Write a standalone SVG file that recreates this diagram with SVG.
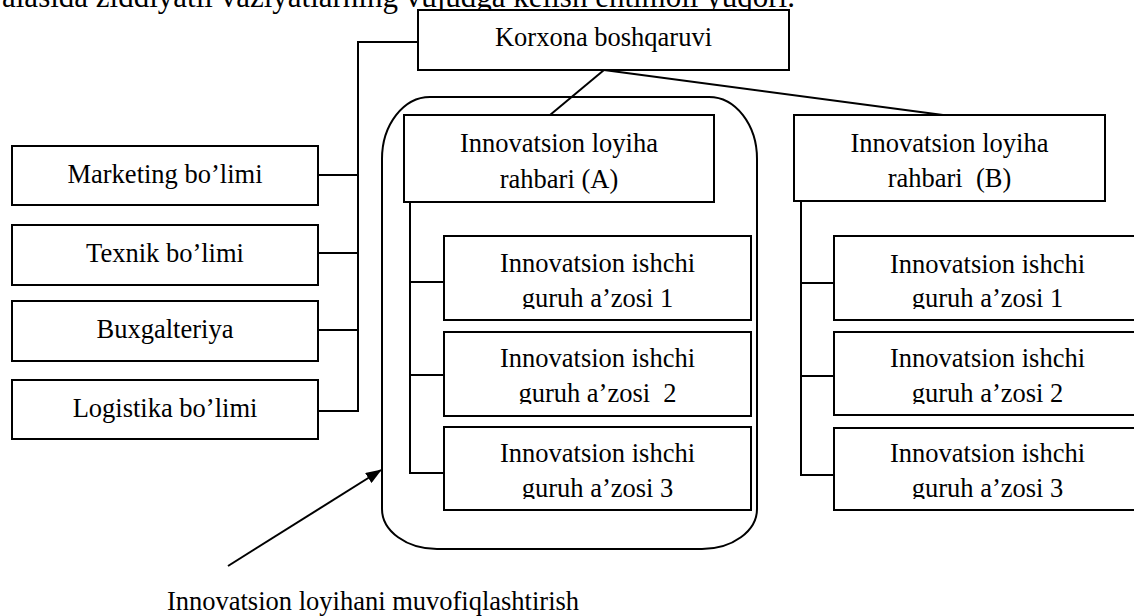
<svg xmlns="http://www.w3.org/2000/svg" width="1134" height="616" viewBox="0 0 1134 616">
<style>
text{font-family:"Liberation Serif","Times New Roman",serif;font-size:26.5px;fill:#000;text-anchor:middle}
.box{fill:#fff;stroke:#000;stroke-width:2}
.ln{fill:none;stroke:#000;stroke-width:2}
.title{font-size:31px;text-anchor:start}
</style>
<defs>
<marker id="ah" markerWidth="16" markerHeight="12" refX="15" refY="6" orient="auto" markerUnits="userSpaceOnUse">
<path d="M0,0 L16,6 L0,12 Z" fill="#000"/>
</marker>
<clipPath id="cA1" clipPathUnits="userSpaceOnUse"><rect x="444" y="236" width="307" height="73"/></clipPath>
<clipPath id="cA2" clipPathUnits="userSpaceOnUse"><rect x="444" y="332" width="307" height="72"/></clipPath>
<clipPath id="cA3" clipPathUnits="userSpaceOnUse"><rect x="444" y="427" width="307" height="72"/></clipPath>
<clipPath id="cB1" clipPathUnits="userSpaceOnUse"><rect x="834" y="236" width="307" height="73"/></clipPath>
<clipPath id="cB2" clipPathUnits="userSpaceOnUse"><rect x="834" y="332" width="307" height="72"/></clipPath>
<clipPath id="cB3" clipPathUnits="userSpaceOnUse"><rect x="834" y="428" width="307" height="71"/></clipPath>
</defs>
<rect width="1134" height="616" fill="#fff"/>
<text class="title" x="2" y="7">alasida ziddiyatli vaziyatlarning vujudga kelish ehtimoli yuqori.</text>

<g id="group-A">
<path class="ln" d="M430,97 H709 A48 62 0 0 1 757,159 V509 A55 40 0 0 1 702,549 H437 A55 40 0 0 1 382,509 V159 A48 62 0 0 1 430,97 Z"/>
</g>

<g id="connectors">
<polyline class="ln" points="418,42 358,42 358,411 318,411"/>
<line class="ln" x1="318" y1="175" x2="358" y2="175"/>
<line class="ln" x1="318" y1="253" x2="358" y2="253"/>
<line class="ln" x1="318" y1="330" x2="358" y2="330"/>
<line class="ln" x1="604" y1="70" x2="550" y2="115"/>
<line class="ln" x1="604" y1="70" x2="943" y2="115"/>
<polyline class="ln" points="410,202 410,473 444,473"/>
<line class="ln" x1="410" y1="282" x2="444" y2="282"/>
<line class="ln" x1="410" y1="375" x2="444" y2="375"/>
<polyline class="ln" points="801,201 801,475 834,475"/>
<line class="ln" x1="801" y1="283" x2="834" y2="283"/>
<line class="ln" x1="801" y1="376" x2="834" y2="376"/>
<line class="ln" x1="228" y1="566" x2="381" y2="470" marker-end="url(#ah)"/>
</g>

<g id="korxona">
<rect class="box" x="418" y="10" width="371" height="60"/>
<text x="603.5" y="46">Korxona boshqaruvi</text>
</g>

<g id="marketing">
<rect class="box" x="12" y="146" width="306" height="59"/>
<text x="165" y="183">Marketing bo’limi</text>
</g>
<g id="texnik">
<rect class="box" x="12" y="225" width="306" height="60"/>
<text x="165" y="262">Texnik bo’limi</text>
</g>
<g id="buxgalteriya">
<rect class="box" x="12" y="301" width="306" height="60"/>
<text x="165" y="338">Buxgalteriya</text>
</g>
<g id="logistika">
<rect class="box" x="12" y="380" width="306" height="59"/>
<text x="165" y="417">Logistika bo’limi</text>
</g>

<g id="rahbar-A">
<rect class="box" x="404" y="115" width="310" height="87"/>
<text x="559" y="152">Innovatsion loyiha</text>
<text x="559" y="188">rahbari (A)</text>
</g>
<g id="rahbar-B">
<rect class="box" x="794" y="115" width="311" height="86"/>
<text x="949.5" y="152">Innovatsion loyiha</text>
<text x="949.5" y="187" xml:space="preserve">rahbari  (B)</text>
</g>

<g id="A1">
<rect class="box" x="444" y="236" width="307" height="84"/>
<g clip-path="url(#cA1)"><text x="597.5" y="272">Innovatsion ishchi</text><text x="597.5" y="307">guruh a’zosi 1</text></g>
</g>
<g id="A2">
<rect class="box" x="444" y="332" width="307" height="84"/>
<g clip-path="url(#cA2)"><text x="597.5" y="367">Innovatsion ishchi</text><text x="597.5" y="402" xml:space="preserve">guruh a’zosi  2</text></g>
</g>
<g id="A3">
<rect class="box" x="444" y="427" width="307" height="83"/>
<g clip-path="url(#cA3)"><text x="597.5" y="462">Innovatsion ishchi</text><text x="597.5" y="497">guruh a’zosi 3</text></g>
</g>

<g id="B1">
<rect class="box" x="834" y="236" width="307" height="84"/>
<g clip-path="url(#cB1)"><text x="987.5" y="273">Innovatsion ishchi</text><text x="987.5" y="307">guruh a’zosi 1</text></g>
</g>
<g id="B2">
<rect class="box" x="834" y="332" width="307" height="83"/>
<g clip-path="url(#cB2)"><text x="987.5" y="367">Innovatsion ishchi</text><text x="987.5" y="402">guruh a’zosi 2</text></g>
</g>
<g id="B3">
<rect class="box" x="834" y="428" width="307" height="82"/>
<g clip-path="url(#cB3)"><text x="987.5" y="462">Innovatsion ishchi</text><text x="987.5" y="497">guruh a’zosi 3</text></g>
</g>

<g id="label">
<text x="373" y="610">Innovatsion loyihani muvofiqlashtirish</text>
</g>
</svg>
